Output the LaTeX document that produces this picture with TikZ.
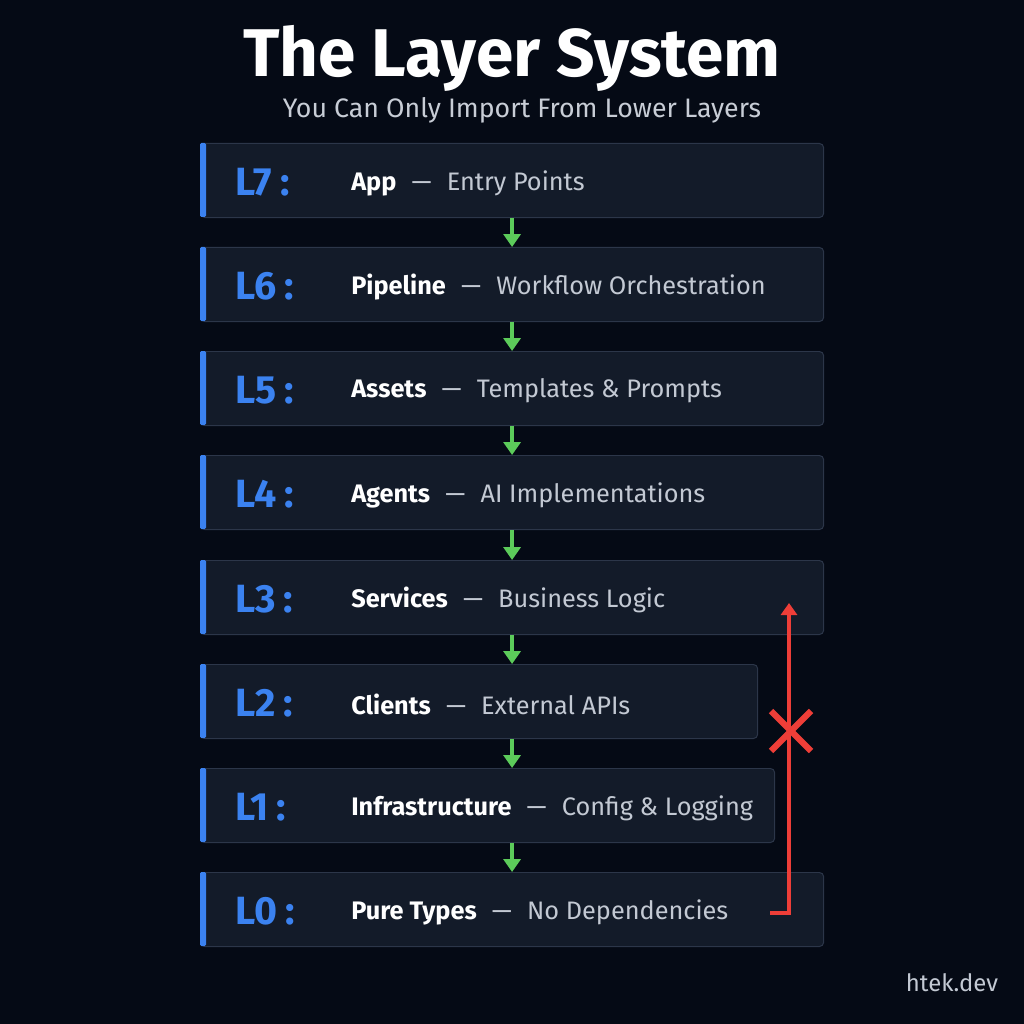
\documentclass[tikz,border=0pt]{standalone}
\usepackage{fontspec}
\setmainfont{Fira Sans}
\usetikzlibrary{arrows.meta}

\definecolor{bgdark}{HTML}{050A15}
\definecolor{layerfill}{HTML}{131B29}
\definecolor{layerline}{HTML}{2C3649}
\definecolor{layerblue}{HTML}{3B82F0}
\definecolor{okgreen}{HTML}{5CCB5A}
\definecolor{badred}{HTML}{EE3E38}
\definecolor{descgray}{HTML}{C3C9D3}
\definecolor{subgray}{HTML}{C8CDD6}

\newcommand{\layertext}[2]{{\color{white}\bfseries #1}\hspace{0.6em}{\color{descgray}—}\hspace{0.6em}{\color{descgray}#2}}

\begin{document}
\begin{tikzpicture}[
  x=0.025cm,y=-0.025cm,
  layer/.style={draw=layerline,fill=layerfill,rounded corners=3pt,line width=0.7pt,minimum height=1.85cm,anchor=north west,inner sep=0pt},
  tag/.style={anchor=west,inner sep=0pt,text=layerblue,font=\fontsize{28}{28}\selectfont\bfseries},
  what/.style={anchor=west,inner sep=0pt,font=\fontsize{18}{18}\selectfont},
  down/.style={-{Triangle[length=3.2mm,width=4.2mm]},line width=2.4pt,draw=okgreen,fill=okgreen},
  bar/.style={fill=layerblue,rounded corners=1pt}
]
  \fill[bgdark] (0,0) rectangle (1024,1024);
  \useasboundingbox (0,0) rectangle (1024,1024);

  % heading
  \node[font=\fontsize{48}{48}\selectfont\bfseries,text=white] (title) at (512,58) {The Layer System};
  \node[font=\fontsize{19}{19}\selectfont,text=subgray] (subtitle) at (522,110) {You Can Only Import From Lower Layers};

  % layers, top to bottom
  \node[layer,minimum width=15.575cm] (l7) at (200,143) {};
  \node[layer,minimum width=15.575cm] (l6) at (200,247) {};
  \node[layer,minimum width=15.575cm] (l5) at (200,351) {};
  \node[layer,minimum width=15.575cm] (l4) at (200,455) {};
  \node[layer,minimum width=15.575cm] (l3) at (200,560) {};
  \node[layer,minimum width=13.925cm] (l2) at (200,664) {};
  \node[layer,minimum width=14.35cm] (l1) at (200,768) {};
  \node[layer,minimum width=15.575cm] (l0) at (200,872) {};

  \fill[bar] (l7.north west) rectangle ++(6,74);
  \fill[bar] (l6.north west) rectangle ++(6,74);
  \fill[bar] (l5.north west) rectangle ++(6,74);
  \fill[bar] (l4.north west) rectangle ++(6,74);
  \fill[bar] (l3.north west) rectangle ++(6,74);
  \fill[bar] (l2.north west) rectangle ++(6,74);
  \fill[bar] (l1.north west) rectangle ++(6,74);
  \fill[bar] (l0.north west) rectangle ++(6,74);

  \node[tag] (l7-tag) at (235,182) {L7\hspace{0.2em}:};
  \node[tag] (l6-tag) at (235,286) {L6\hspace{0.2em}:};
  \node[tag] (l5-tag) at (235,390) {L5\hspace{0.2em}:};
  \node[tag] (l4-tag) at (235,494) {L4\hspace{0.2em}:};
  \node[tag] (l3-tag) at (235,599) {L3\hspace{0.2em}:};
  \node[tag] (l2-tag) at (235,703) {L2\hspace{0.2em}:};
  \node[tag] (l1-tag) at (235,807) {L1\hspace{0.2em}:};
  \node[tag] (l0-tag) at (235,911) {L0\hspace{0.2em}:};

  \node[what] (l7-text) at (351,183) {\layertext{App}{Entry Points}};
  \node[what] (l6-text) at (351,287) {\layertext{Pipeline}{Workflow Orchestration}};
  \node[what] (l5-text) at (351,391) {\layertext{Assets}{Templates \& Prompts}};
  \node[what] (l4-text) at (351,495) {\layertext{Agents}{AI Implementations}};
  \node[what] (l3-text) at (351,600) {\layertext{Services}{Business Logic}};
  \node[what] (l2-text) at (351,704) {\layertext{Clients}{External APIs}};
  \node[what] (l1-text) at (351,808) {\layertext{Infrastructure}{Config \& Logging}};
  \node[what] (l0-text) at (351,912) {\layertext{Pure Types}{No Dependencies}};

  % allowed imports
  \draw[down] (l7.south) -- (l6.north);
  \draw[down] (l6.south) -- (l5.north);
  \draw[down] (l5.south) -- (l4.north);
  \draw[down] (l4.south) -- (l3.north);
  \draw[down] (l3.south) -- (l3.south |- l2.north);
  \draw[down] (l3.south |- l2.south) -- (l3.south |- l1.north);
  \draw[down] (l3.south |- l1.south) -- (l0.north);

  % forbidden upward import
  \coordinate (bad-start) at (770,913);
  \coordinate (bad-end) at (789,603);
  \coordinate (bad-cross) at (791,731);
  \draw[badred,line width=2.2pt,-{Triangle[length=3mm,width=4mm]}] (bad-start) -| (bad-end);
  \draw[badred,line width=4.5pt] ([shift={(-20,-20)}]bad-cross) -- ([shift={(20,20)}]bad-cross);
  \draw[badred,line width=4.5pt] ([shift={(-20,20)}]bad-cross) -- ([shift={(20,-20)}]bad-cross);

  \node[font=\fontsize{17}{17}\selectfont,text=descgray] (site) at (952,983) {htek.dev};
\end{tikzpicture}
\end{document}
